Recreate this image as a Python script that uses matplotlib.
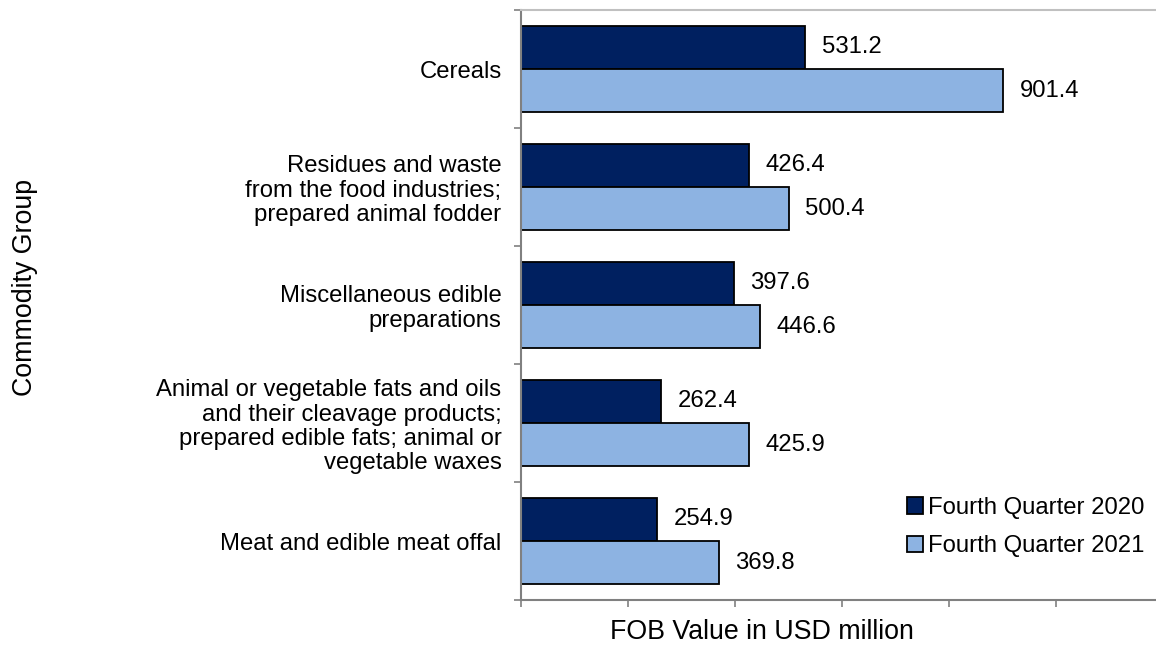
import numpy as np
import matplotlib
matplotlib.use('Agg')
import matplotlib.pyplot as plt
from matplotlib.patches import Patch

plt.rcParams['font.family'] = ['Liberation Sans', 'DejaVu Sans']

#%% data

categories = ['Cereals',
              'Residues and waste\nfrom the food industries;\nprepared animal fodder',
              'Miscellaneous edible\npreparations',
              'Animal or vegetable fats and oils\nand their cleavage products;\nprepared edible fats; animal or\nvegetable waxes',
              'Meat and edible meat offal']
q4_2020 = [531.2, 426.4, 397.6, 262.4, 254.9]
q4_2021 = [901.4, 500.4, 446.6, 425.9, 369.8]
series_names = ['Fourth Quarter 2020', 'Fourth Quarter 2021']

dark = '#002060'
light = '#8DB3E2'
grey = '#808080'
fs = 17.2
fs_title = 19.3

#%% plot

fig = plt.figure(figsize=(11.56, 6.53), dpi=100)
ax = fig.add_axes([521/1156, 1-600/653, 1-521/1156, 590/653])

y = np.arange(len(categories))
h = 0.366
b1 = ax.barh(y - h/2, q4_2020, height=h, color=dark, edgecolor='black', linewidth=1.3)
b2 = ax.barh(y + h/2, q4_2021, height=h, color=light, edgecolor='black', linewidth=1.3)

for bars, vals in ((b1, q4_2020), (b2, q4_2021)):
    for bar, v in zip(bars, vals):
        ax.annotate('%.1f' % v, (v, bar.get_y() + bar.get_height()/2),
                    xytext=(12, 0), textcoords='offset points',
                    ha='left', va='center', fontsize=fs)

ax.set_xlim(0, 1187)
ax.set_ylim(len(categories) - 0.5, -0.5)

# x ticks without labels
ax.set_xticks(np.arange(0, 1001, 200))
ax.tick_params(axis='x', direction='out', length=5, width=1.2, color=grey, labelbottom=False)

# category labels at centres, boundary ticks as minor
ax.set_yticks(y)
ax.set_yticklabels(categories, fontsize=fs, linespacing=1.12)
ax.set_yticks(np.arange(-0.5, len(categories)), minor=True)
ax.tick_params(axis='y', which='major', length=0, pad=14)
ax.tick_params(axis='y', which='minor', direction='out', length=5, width=1.2, color=grey)

for s in ('left', 'bottom'):
    ax.spines[s].set_color(grey)
    ax.spines[s].set_linewidth(1.5)
ax.spines['right'].set_visible(False)
ax.spines['top'].set_color('#c0c0c0')
ax.spines['top'].set_linewidth(1.5)

fig.text(762/1156, 1-632/653, 'FOB Value in USD million', ha='center', va='center', fontsize=fs_title)
fig.text(25/1156, 1-287/653, 'Commodity Group', ha='center', va='center', rotation=90, fontsize=fs_title)

handles = [Patch(facecolor=dark, edgecolor='black', linewidth=1.3),
           Patch(facecolor=light, edgecolor='black', linewidth=1.3)]
fig.legend(handles, series_names, loc='center left', bbox_to_anchor=(907/1156, 1-527/653),
           frameon=False, fontsize=fs, handlelength=0.68, handleheight=0.68,
           handletextpad=0.18, labelspacing=0.68, borderpad=0, borderaxespad=0)

fig.savefig('out.png', dpi=100)
